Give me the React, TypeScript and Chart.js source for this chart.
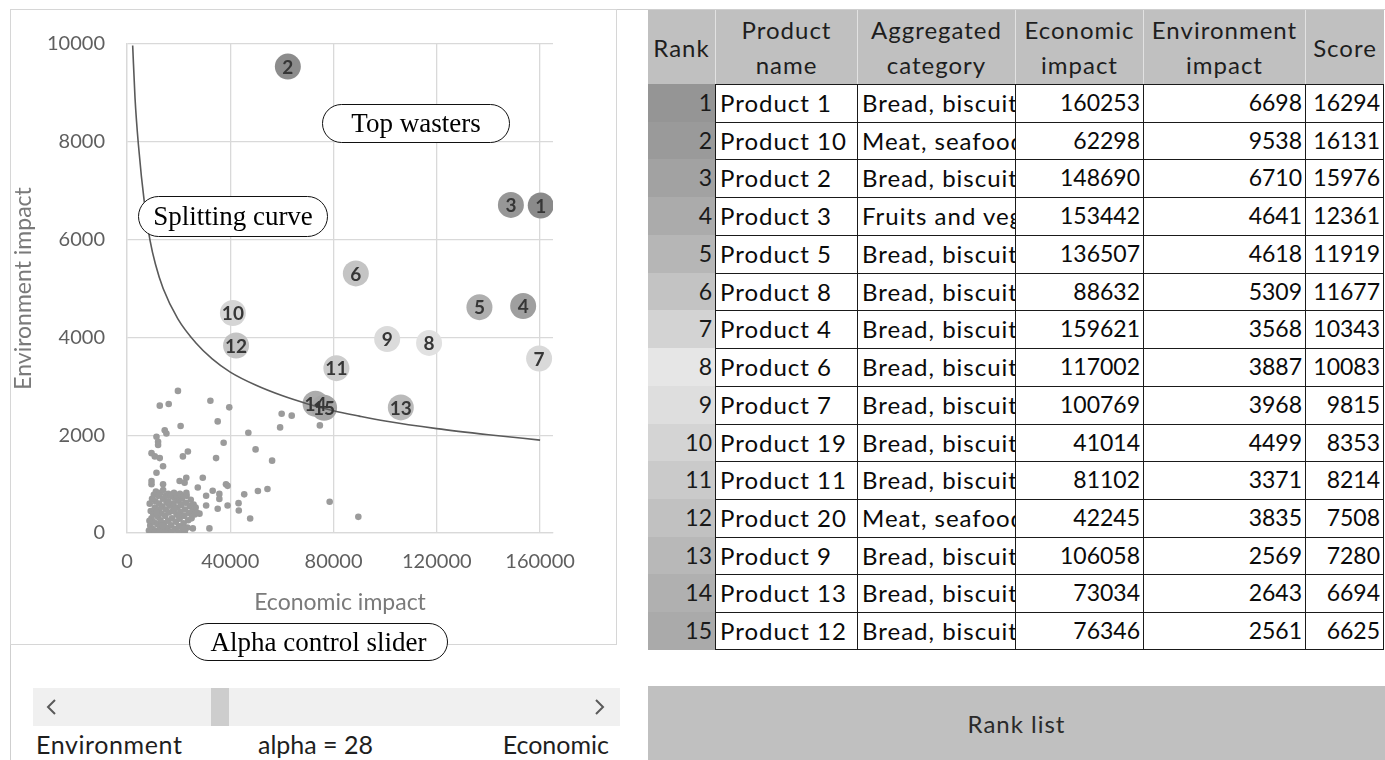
import React, { useEffect, useRef } from "react";
import { Chart, registerables } from "chart.js";

Chart.register(...registerables);

// ---------- data ----------
const ranks = [1, 2, 3, 4, 5, 6, 7, 8, 9, 10, 11, 12, 13, 14, 15];
const productNames = [
  "Product 1", "Product 10", "Product 2", "Product 3", "Product 5",
  "Product 8", "Product 4", "Product 6", "Product 7", "Product 19",
  "Product 11", "Product 20", "Product 9", "Product 13", "Product 12",
];
const categories = [
  "Bread, biscuits and cakes", "Meat, seafood and eggs", "Bread, biscuits and cakes",
  "Fruits and vegetables", "Bread, biscuits and cakes", "Bread, biscuits and cakes",
  "Bread, biscuits and cakes", "Bread, biscuits and cakes", "Bread, biscuits and cakes",
  "Bread, biscuits and cakes", "Bread, biscuits and cakes", "Meat, seafood and eggs",
  "Bread, biscuits and cakes", "Bread, biscuits and cakes", "Bread, biscuits and cakes",
];
const economicImpact = [160253, 62298, 148690, 153442, 136507, 88632, 159621, 117002, 100769, 41014, 81102, 42245, 106058, 73034, 76346];
const environmentImpact = [6698, 9538, 6710, 4641, 4618, 5309, 3568, 3887, 3968, 4499, 3371, 3835, 2569, 2643, 2561];
const scores = [16294, 16131, 15976, 12361, 11919, 11677, 10343, 10083, 9815, 8353, 8214, 7508, 7280, 6694, 6625];
const rankShades = ["#959595", "#9a9a9a", "#a2a2a2", "#ababab", "#b6b6b6", "#c3c3c3", "#d3d3d3", "#e6e6e6", "#dedede", "#d4d4d4", "#cacaca", "#c1c1c1", "#b8b8b8", "#b0b0b0", "#aaaaaa"];
const bubbleShades = ["#8a8a8a", "#8c8c8c", "#979797", "#9f9f9f", "#afafaf", "#c4c4c4", "#d9d9d9", "#e1e1e1", "#dbdbdb", "#d5d5d5", "#cdcdcd", "#c3c3c3", "#bababa", "#acacac", "#a6a6a6"];

// other (non top-15) products: [economic, environment]
const otherProducts: [number, number][] = [
  [19730, 2906], [12690, 2604], [16150, 2637], [32300, 2705], [39610, 2570], [35130, 2282],
  [20770, 2189], [14610, 2102], [15270, 2034], [11420, 1968], [12040, 1867], [12040, 1800],
  [37430, 1847], [47000, 2050], [49800, 1710], [56200, 1480], [59900, 2440], [63800, 2400],
  [59300, 2160], [74700, 2200], [78500, 640], [89600, 330], [45400, 790], [50700, 860],
  [54400, 900], [43200, 610], [43300, 460], [47700, 295],
  [9500, 1633], [10770, 1566], [12690, 1532], [23580, 1667], [21650, 1566], [34500, 1532],
  [13960, 1365], [11420, 1231], [9500, 1064], [9500, 998], [13960, 998], [20380, 1064],
  [22960, 1131], [22310, 1030], [29350, 1131], [27420, 930], [33190, 863], [35770, 800],
  [38340, 998], [38970, 964], [30650, 763], [35770, 697], [30650, 562], [35130, 496],
  [38970, 562], [28080, 396], [25500, 94], [31920, 94],
  [8500, 50], [9000, 150], [9500, 300], [9200, 450], [8800, 600], [10000, 80], [10500, 220],
  [10200, 380], [10800, 520], [11000, 650], [11500, 40], [11800, 180], [12000, 330], [12300, 470],
  [12500, 600], [12800, 120], [13000, 260], [13300, 400], [13600, 540], [13900, 700], [14200, 60],
  [14500, 200], [14800, 350], [15000, 480], [15300, 620], [15600, 100], [15900, 250], [16200, 420],
  [16500, 560], [16800, 30], [17100, 160], [17400, 300], [17700, 450], [18000, 600], [18300, 720],
  [18600, 80], [18900, 230], [19200, 380], [19500, 520], [19800, 660], [20100, 140], [20400, 290],
  [20700, 430], [21000, 570], [21300, 700], [21600, 50], [21900, 200], [22200, 350], [22500, 480],
  [22800, 620], [23100, 760], [23400, 110], [23700, 260], [24000, 410], [24300, 550], [24700, 680],
  [25000, 300], [25400, 450], [25800, 580], [26200, 380], [26600, 520], [27000, 420], [9700, 700],
  [10400, 780], [11200, 850], [12100, 760], [13000, 820], [14000, 880], [15100, 760], [16000, 800],
  [17000, 760], [18200, 820], [19400, 760], [20500, 800], [21800, 760], [23000, 820], [9300, 20],
  [10700, 10], [12600, 15], [14700, 10], [17300, 20], [19900, 15], [22400, 30], [8700, 250],
  [11400, 420], [13800, 150], [16000, 650], [18500, 500], [20000, 350], [22000, 100],
];

// splitting curve
const curveEconomic = [2200, 3100, 4400, 6900, 8900, 11000, 14000, 19700, 26800, 33000, 40000, 50000, 60000, 70000, 80000, 90000, 100000, 120000, 140000, 160000];
const curveEnvironment = [9970, 8900, 7950, 6680, 5990, 5500, 5000, 4380, 3880, 3560, 3290, 3020, 2810, 2640, 2500, 2390, 2290, 2135, 2010, 1900];

const xTicks = [0, 40000, 80000, 120000, 160000];
const yTicks = [0, 2000, 4000, 6000, 8000, 10000];

const alphaValue = 28;

// ---------- styling ----------
const SANS = "Lato, 'Open Sans', sans-serif";
const SERIF = "'Liberation Serif', 'DejaVu Serif', serif";

const colEdges = [648, 715, 857, 1015, 1143, 1305, 1384];
const headerTop = 10;
const headerBottom = 84;
const rowH = 37.73;

function ScatterPanel() {
  const ref = useRef<HTMLCanvasElement | null>(null);
  useEffect(() => {
    if (!ref.current) return;
    const bubblePts = economicImpact.map((x, i) => ({ x, y: environmentImpact[i] }));
    const dots = otherProducts.map(([x, y]) => ({ x, y }));
    const curve = curveEconomic.map((x, i) => ({ x, y: curveEnvironment[i] }));

    const labelPlugin = {
      id: "bubbleLabels",
      afterDatasetsDraw(chart: any) {
        const meta = chart.getDatasetMeta(1);
        const ctx = chart.ctx;
        ctx.save();
        ctx.font = `bold 19px ${SANS}`;
        ctx.fillStyle = "#363636";
        ctx.textAlign = "center";
        ctx.textBaseline = "middle";
        meta.data.forEach((el: any, i: number) => {
          ctx.fillText(String(ranks[i]), el.x, el.y + 1);
        });
        ctx.restore();
      },
    };

    const chart = new Chart(ref.current, {
      type: "scatter",
      data: {
        datasets: [
          {
            type: "line",
            data: curve,
            borderColor: "#5a5a5a",
            borderWidth: 1.6,
            pointRadius: 0,
            tension: 0.4,
            cubicInterpolationMode: "monotone",
            fill: false,
          } as any,
          {
            data: bubblePts,
            pointRadius: 13,
            backgroundColor: bubbleShades,
            borderWidth: 0,
          },
          {
            data: dots,
            pointRadius: 3.3,
            backgroundColor: "#9b9b9b",
            borderWidth: 0,
          },
        ],
      },
      options: {
        responsive: false,
        animation: false,
        layout: { padding: { left: 0, top: 25, right: 65, bottom: 30 } },
        plugins: { legend: { display: false }, tooltip: { enabled: false } },
        scales: {
          x: {
            type: "linear",
            min: 0,
            max: 165000,
            afterBuildTicks: (s: any) => {
              s.ticks = xTicks.map((v) => ({ value: v }));
            },
            afterFit: (s: any) => {
              s.height = 83;
            },
            grid: { color: "#d9d9d9", lineWidth: 1.3, drawTicks: false },
            border: { color: "#d9d9d9", width: 1.3 },
            ticks: {
              padding: 17,
              color: "#5f5f5f",
              font: { family: SANS, size: 20 },
              maxRotation: 0,
              callback: (v: any) => String(v),
            },
            title: {
              display: true,
              text: "Economic impact",
              color: "#7a7a7a",
              font: { family: SANS, size: 23 },
              padding: { top: 0, bottom: 0 },
            },
          },
          y: {
            type: "linear",
            min: 0,
            max: 10000,
            afterBuildTicks: (s: any) => {
              s.ticks = yTicks.map((v) => ({ value: v }));
            },
            afterFit: (s: any) => {
              s.width = 117;
            },
            grid: { color: "#d9d9d9", lineWidth: 1.3, drawTicks: false },
            border: { color: "#d9d9d9", width: 1.3 },
            ticks: {
              padding: 22,
              color: "#5f5f5f",
              font: { family: SANS, size: 20 },
              callback: (v: any) => String(v),
            },
            title: {
              display: true,
              text: "Environment impact",
              color: "#7a7a7a",
              font: { family: SANS, size: 23 },
              padding: { top: 0, bottom: 0 },
            },
          },
        },
      },
      plugins: [labelPlugin],
    } as any);
    return () => chart.destroy();
  }, []);

  return (
    <canvas
      ref={ref}
      width={608}
      height={636}
      style={{ position: "absolute", left: 10, top: 10, width: 608, height: 636 }}
    />
  );
}

function Pill({ left, top, width, height, text }: { left: number; top: number; width: number; height: number; text: string }) {
  return (
    <div
      style={{
        position: "absolute",
        left,
        top,
        width,
        height,
        boxSizing: "border-box",
        border: "1.6px solid #111",
        borderRadius: height / 2,
        background: "#fff",
        fontFamily: SERIF,
        fontSize: 27,
        color: "#000",
        display: "flex",
        alignItems: "center",
        justifyContent: "center",
        whiteSpace: "nowrap",
        zIndex: 3,
      }}
    >
      {text}
    </div>
  );
}

function Slider() {
  const txt: React.CSSProperties = { position: "absolute", top: 729, fontFamily: SANS, fontSize: 25, color: "#1e1e1e", lineHeight: "30px", whiteSpace: "nowrap" };
  return (
    <>
      <div style={{ position: "absolute", left: 33, top: 688, width: 587, height: 38, background: "#f0f0f0" }} />
      <div style={{ position: "absolute", left: 211, top: 688, width: 18, height: 38, background: "#cdcdcd" }} />
      <svg style={{ position: "absolute", left: 33, top: 688 }} width={587} height={38}>
        <polyline points="22,12 15,19 22,26" fill="none" stroke="#5a5a5a" strokeWidth={2} />
        <polyline points="563,12 570,19 563,26" fill="none" stroke="#5a5a5a" strokeWidth={2} />
      </svg>
      <div style={{ ...txt, left: 36, letterSpacing: "0.6px" }}>Environment</div>
      <div style={{ ...txt, left: 258 }}>{`alpha = ${alphaValue}`}</div>
      <div style={{ ...txt, right: 1385 - 609 }}>Economic</div>
    </>
  );
}

function RankTable() {
  const headers = [["Rank"], ["Product", "name"], ["Aggregated", "category"], ["Economic", "impact"], ["Environment", "impact"], ["Score"]];
  const cells: React.ReactNode[] = [];
  cells.push(
    <div key="hbg" style={{ position: "absolute", left: colEdges[0], top: headerTop, width: colEdges[6] - colEdges[0], height: headerBottom - headerTop, background: "#c0c0c0" }} />
  );
  headers.forEach((h, c) => {
    const l = colEdges[c];
    const w = colEdges[c + 1] - l;
    cells.push(
      <div
        key={"h" + c}
        style={{
          position: "absolute",
          left: l,
          top: headerTop,
          width: w,
          height: headerBottom - headerTop,
          boxSizing: "border-box",
          borderLeft: c > 0 ? "1px solid #e2e2e2" : "none",
          display: "flex",
          flexDirection: "column",
          alignItems: "center",
          justifyContent: "center",
          fontFamily: SANS,
          fontSize: 24,
          letterSpacing: "1px",
          lineHeight: "35px",
          color: "#1e1e1e",
          whiteSpace: "nowrap",
          overflow: "hidden",
        }}
      >
        {h.map((t, k) => (
          <div key={k}>{t}</div>
        ))}
      </div>
    );
  });
  ranks.forEach((r, i) => {
    const top = headerBottom + i * rowH;
    cells.push(
      <div
        key={"r" + i}
        style={{
          position: "absolute",
          left: colEdges[0],
          top,
          width: colEdges[1] - colEdges[0],
          height: rowH + 0.5,
          background: rankShades[i],
          boxSizing: "border-box",
          paddingRight: 3,
          textAlign: "right",
          fontFamily: SANS,
          fontSize: 23,
          lineHeight: rowH + "px",
          color: "#1a1a1a",
        }}
      >
        {r}
      </div>
    );
    const vals: [string, "left" | "right", boolean][] = [
      [productNames[i], "left", true],
      [categories[i], "left", true],
      [String(economicImpact[i]), "right", false],
      [String(environmentImpact[i]), "right", false],
      [String(scores[i]), "right", false],
    ];
    vals.forEach(([t, align, isText], k) => {
      const c = k + 1;
      const l = colEdges[c];
      const w = colEdges[c + 1] - l;
      cells.push(
        <div
          key={`c${i}_${k}`}
          style={{
            position: "absolute",
            left: l,
            top,
            width: w,
            height: rowH,
            boxSizing: "border-box",
            background: "#fff",
            borderLeft: "1.6px solid #1a1a1a",
            borderTop: "1.6px solid #1a1a1a",
            borderRight: c === 5 ? "1.6px solid #1a1a1a" : "none",
            borderBottom: i === ranks.length - 1 ? "1.6px solid #1a1a1a" : "none",
            padding: "0 3px 0 4px",
            textAlign: align,
            fontFamily: SANS,
            fontSize: isText ? 24 : 23,
            letterSpacing: isText ? "1px" : "0px",
            lineHeight: rowH - 2 + "px",
            color: "#0a0a0a",
            whiteSpace: "nowrap",
            overflow: "hidden",
          }}
        >
          {t}
        </div>
      );
    });
  });
  return <>{cells}</>;
}

export default function App() {
  return (
    <div
      style={{
        position: "absolute",
        left: 0,
        top: 0,
        width: 1385,
        height: 760,
        overflow: "hidden",
        background: "#fff",
        fontFamily: SANS,
      }}
    >
      <div style={{ position: "absolute", left: 10, top: 9, width: 1375, height: 751, borderTop: "1px solid #cfcfcf", borderLeft: "1px solid #cfcfcf" }} />
      <div style={{ position: "absolute", left: 10, top: 9, width: 607, height: 636, boxSizing: "border-box", border: "1px solid #d6d6d6" }} />
      <ScatterPanel />
      <Pill left={322} top={104} width={188} height={39} text="Top wasters" />
      <Pill left={138} top={196} width={190} height={41} text="Splitting curve" />
      <Pill left={189} top={623} width={259} height={38} text="Alpha control slider" />
      <Slider />
      <RankTable />
      <div
        style={{
          position: "absolute",
          left: 648,
          top: 686,
          width: 737,
          height: 74,
          background: "#c0c0c0",
          display: "flex",
          alignItems: "center",
          justifyContent: "center",
          fontFamily: SANS,
          fontSize: 24,
          letterSpacing: "1px",
          color: "#2a2a2a",
        }}
      >
        Rank list
      </div>
    </div>
  );
}
